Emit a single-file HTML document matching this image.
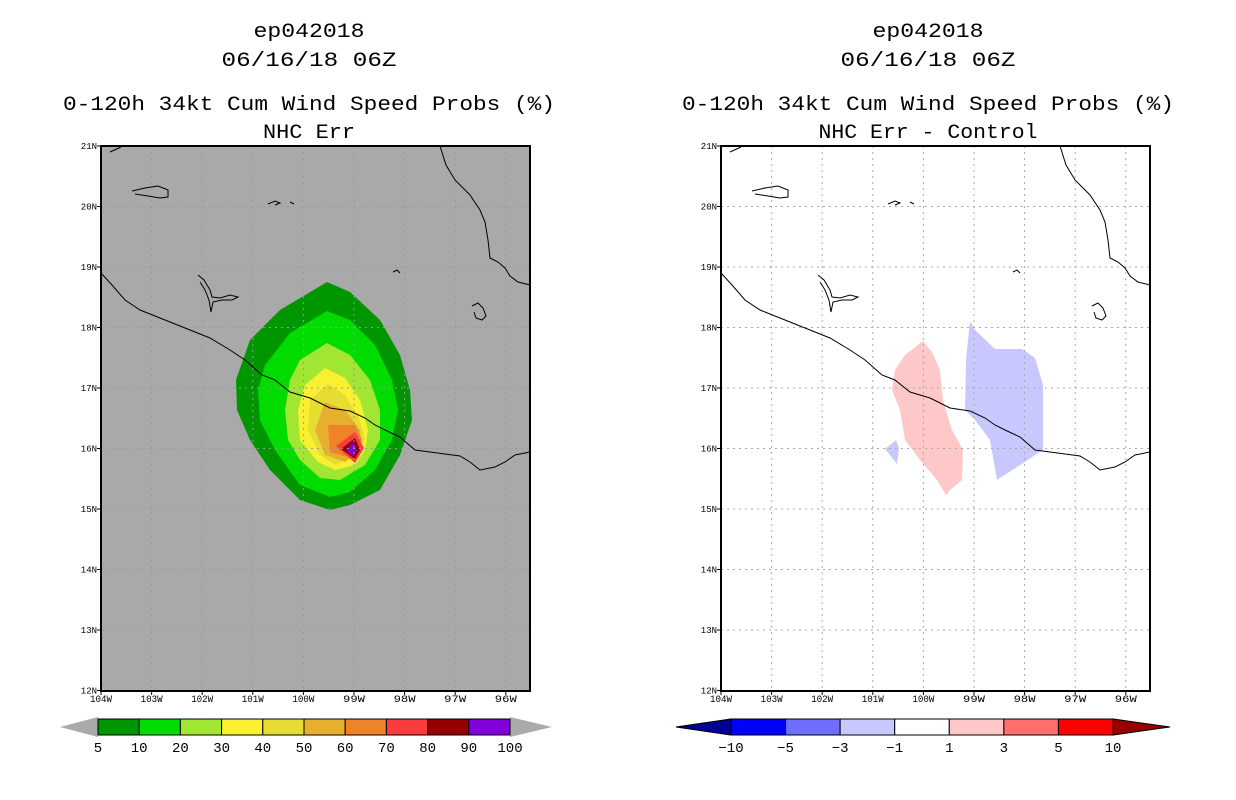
<!DOCTYPE html>
<html><head><meta charset="utf-8"><style>
body{margin:0;background:#fff;width:1236px;height:800px;overflow:hidden}
svg{display:block}
text{font-family:"Liberation Mono","DejaVu Sans Mono",monospace;fill:#000}
</style></head><body>
<svg id="s" width="1236" height="800" xmlns="http://www.w3.org/2000/svg"></svg>
<script>
const lonTicks=[-104,-103,-102,-101,-100,-99,-98,-97,-96];
const latTicks=[12,13,14,15,16,17,18,19,20,21];
const probLevels=["5","10","20","30","40","50","60","70","80","90","100"];
const probColors=["#009600","#00dc00","#a0e632","#faf032","#e6dc32","#e6af2d","#f08228","#fa3c3c","#960000","#8200dc"];
const diffLevels=["-10","-5","-3","-1","1","3","5","10"];
const diffColors=["#0000ff","#6e6eff","#c8c8ff","#ffffff","#ffc8c8","#ff6e6e","#ff0000"];
const diffEnds=["#000096","#960000"];
const probShapes=[
[[327,282],[350,292],[380,320],[400,355],[410,390],[412,420],[400,455],[380,490],[350,505],[330,510],[300,500],[270,470],[250,440],[237,410],[236,380],[250,340],[280,310]],
[[327,311],[350,320],[375,345],[392,380],[398,410],[392,440],[375,470],[350,492],[330,497],[300,485],[275,450],[260,420],[258,390],[265,365],[290,333]],
[[327,343],[350,355],[370,380],[380,410],[380,440],[365,465],[340,480],[320,478],[300,460],[288,440],[285,410],[290,380],[300,360]],
[[325,368],[345,378],[360,400],[368,430],[365,450],[355,465],[335,470],[318,462],[300,440],[298,410],[305,385]],
[[328,384],[345,395],[360,420],[365,440],[355,455],[335,465],[320,455],[308,430],[310,400]],
[[325,402],[345,410],[360,430],[362,450],[345,462],[325,455],[315,430]],
[[328,425],[355,425],[362,440],[352,458],[330,452]],
[[336,446],[355,432],[364,448],[355,463]],
[[341,449],[355,438],[360,450],[355,459]],
[[346,450],[353,442],[357,450],[353,456]]];
const diffShapes=[
{c:4,p:[[923,341],[932,352],[940,370],[943,400],[952,430],[963,450],[962,480],[950,490],[946,495],[937,480],[920,460],[905,440],[900,410],[892,390],[895,370],[905,355]]},
{c:2,p:[[970,321],[975,330],[995,349],[1022,349],[1035,358],[1043,385],[1043,450],[1035,455],[1020,465],[1000,478],[997,480],[990,440],[975,420],[965,410],[966,360]]},
{c:2,p:[[885,449],[896,440],[899,448],[897,464]]}];
const coast=[[101,273],[112,285],[125,300],[140,310],[160,318],[190,330],[210,338],[230,350],[245,360],[262,375],[275,380],[290,392],[310,398],[330,408],[350,411],[365,418],[375,425],[385,430],[400,437],[415,450],[430,452],[460,456],[470,462],[480,470],[495,467],[505,462],[515,455],[530,452]];
const coastE=[[440,146],[446,165],[455,180],[470,195],[480,210],[485,222],[488,240],[490,258],[498,262],[505,268],[510,276],[518,282],[530,285]];
const islands=[[[132,191],[145,188],[158,186],[168,190],[168,197],[160,198],[148,196],[135,194]],[[268,204],[275,201],[280,203],[275,205]],[[290,202],[294,204]],[[198,275],[204,280],[210,290],[212,297],[220,298],[230,295],[238,297],[232,300],[222,300],[213,302],[211,312],[209,300],[205,290],[200,282]],[[393,272],[397,270],[400,273]],[[472,306],[478,303],[483,308],[486,316],[482,320],[476,318],[474,312]],[[110,152],[121,147]]];
const W=50.6,H=60.5;
const S=document.getElementById('s');
function el(t,a,p){const e=document.createElementNS('http://www.w3.org/2000/svg',t);for(const k in a)e.setAttribute(k,a[k]);(p||S).appendChild(e);return e;}
function txt(x,y,s,sz,anc,p,len){const a={x:x,y:y,'font-size':sz,'text-anchor':anc||'middle'};if(len){a.textLength=len;a.lengthAdjust='spacingAndGlyphs';}const t=el('text',a,p);t.textContent=s;return t;}
function pts(a,dx){return a.map(q=>(q[0]+dx)+','+q[1]).join(' ');}
function panel(dx,bg,name){
  const g=el('g',{});
  
  
  const X0=101+dx,Y0=146;
  const xs=lon=>X0+(lon+104)*W, ys=lat=>Y0+(21-lat)*H;
  const bgr=el('rect',{x:X0,y:Y0,width:429,height:545,fill:bg},g);
  
  
  if(dx===0){probShapes.forEach((p,i)=>{const e=el('polygon',{points:pts(p,0),fill:probColors[i]},g);
    
    });}
  else{diffShapes.forEach(d=>{const e=el('polygon',{points:pts(d.p,0),fill:diffColors[d.c]},g);
    
    });}
  const gc=bg==='#fff'?'#aaa':'#999';
  lonTicks.slice(1).forEach(l=>{const x=xs(l);if(x<X0+429)el('line',{x1:x,y1:Y0,x2:x,y2:Y0+545,stroke:gc,'stroke-dasharray':'2,4'},g);});
  latTicks.slice(1,-1).forEach(l=>{el('line',{x1:X0,y1:ys(l),x2:X0+429,y2:ys(l),stroke:gc,'stroke-dasharray':'2,4'},g);});
  [coast,coastE].forEach(c=>{const e=el('polyline',{points:pts(c,dx),fill:'none',stroke:'#000','stroke-width':1},g);
    
    });
  islands.forEach(c=>el('polyline',{points:pts(c,dx),fill:'none',stroke:'#000','stroke-width':1},g));
  const fr=el('rect',{x:X0,y:Y0,width:429,height:545,fill:'none',stroke:'#000','stroke-width':2},g);
  
  
  lonTicks.forEach(l=>{const x=xs(l);el('line',{x1:x,y1:Y0+545,x2:x,y2:Y0+549,stroke:'#000'},g);
    const t=txt(x,702,(-l)+'W',10,'middle',g,22);});
  latTicks.forEach(l=>{const y=ys(l);el('line',{x1:X0-4,y1:y,x2:X0,y2:y,stroke:'#000'},g);
    const t=txt(X0-4,y+3,l+'N',9,'end',g);});
}
panel(0,'#a9a9a9','left-map');
panel(620,'#fff','right-map');
[[309,'ep042018','06/16/18 06Z','NHC Err',92],[928,'ep042018','06/16/18 06Z','NHC Err - Control',219]].forEach((t,i)=>{
  const a=txt(t[0],37,t[1],20,'middle',null,111);
  const b=txt(t[0],66,t[2],20,'middle',null,175);
  const c=txt(t[0],110,'0-120h 34kt Cum Wind Speed Probs (%)',20,'middle',null,492);
  const d=txt(t[0],138,t[3],20,'middle',null,t[4]);
});
(function(){const x0=98,x1=510,y0=719,y1=735,n=probColors.length,w=(x1-x0)/n;
  const g=el('g',{});
  el('polygon',{points:`60,727 ${x0},${y0-2} ${x0},${y1+2}`,fill:'#aaa'},g);
  el('polygon',{points:`552,727 ${x1},${y0-2} ${x1},${y1+2}`,fill:'#aaa'},g);
  probColors.forEach((c,i)=>el('rect',{x:x0+i*w,y:y0,width:w,height:y1-y0,fill:c,stroke:'#000','stroke-width':1},g));
  probLevels.forEach((l,i)=>txt(x0+i*w,752,l,14,'middle',g));})();
(function(){const x0=731,x1=1113,y0=719,y1=735,n=diffColors.length,w=(x1-x0)/n;
  const g=el('g',{});
  el('polygon',{points:`676,727 ${x0},${y0} ${x0},${y1}`,fill:diffEnds[0],stroke:'#000'},g);
  el('polygon',{points:`1170,727 ${x1},${y0} ${x1},${y1}`,fill:diffEnds[1],stroke:'#000'},g);
  diffColors.forEach((c,i)=>el('rect',{x:x0+i*w,y:y0,width:w,height:y1-y0,fill:c,stroke:'#000','stroke-width':1},g));
  diffLevels.forEach((l,i)=>txt(x0+i*w,752,l.replace('-','\u2212'),14,'middle',g));})();
</script>
</body></html>
